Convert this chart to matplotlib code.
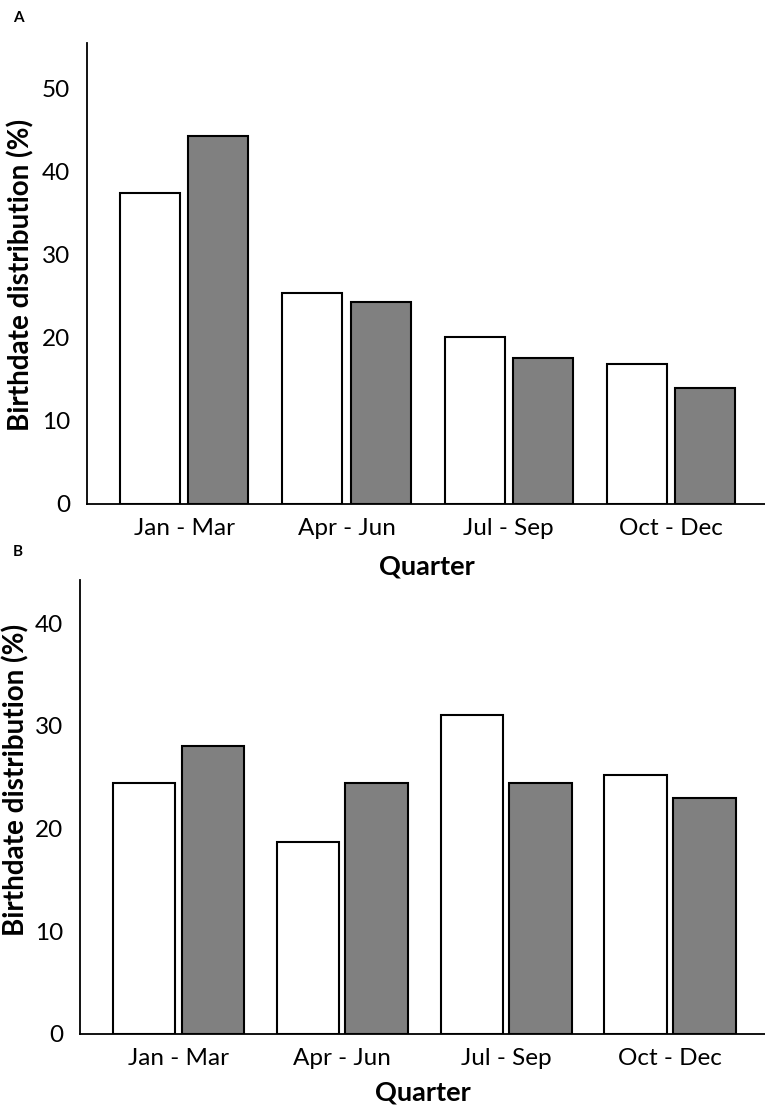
import matplotlib
matplotlib.use("Agg")
import matplotlib.pyplot as plt
import numpy as np

plt.rcParams['font.family'] = ['Lato', 'DejaVu Sans']

quarters = ["Jan - Mar", "Apr - Jun", "Jul - Sep", "Oct - Dec"]
# panel A
a_white = [37.5, 25.4, 20.1, 16.9]
a_grey = [44.3, 24.3, 17.6, 14.0]
# panel B
b_white = [24.4, 18.7, 31.1, 25.2]
b_grey = [28.0, 24.4, 24.4, 23.0]

W, H = 765, 1109
fig = plt.figure(figsize=(W / 100, H / 100), dpi=100)


def panel(rect, white, grey, ymax, yticks, width, off):
    ax = fig.add_axes(rect)
    x = np.arange(len(quarters))
    ax.bar(x - off, white, width, color="white", edgecolor="black", linewidth=1.5)
    ax.bar(x + off, grey, width, color="#808080", edgecolor="black", linewidth=1.5)
    ax.set_xlim(-0.6, 3.58)
    ax.set_ylim(0, ymax)
    ax.set_yticks(yticks)
    ax.set_xticks(x)
    ax.set_xticklabels(quarters)
    for s in ["top", "right"]:
        ax.spines[s].set_visible(False)
    for s in ["left", "bottom"]:
        ax.spines[s].set_linewidth(1.3)
    ax.tick_params(axis="both", length=0, labelsize=17.5)
    ax.tick_params(axis="y", pad=12)
    ax.tick_params(axis="x", pad=10)
    return ax


# rects from pixel positions
axA = panel([87 / W, 1 - 504 / H, 1 - 87 / W, (504 - 43) / H],
            a_white, a_grey, 55.5, [0, 10, 20, 30, 40, 50], 0.37, 0.21)
axB = panel([80 / W, 1 - 1034 / H, 1 - 80 / W, (1034 - 580) / H],
            b_white, b_grey, 44.2, [0, 10, 20, 30, 40], 0.38, 0.21)

fig.text(21 / W, 1 - 275 / H, "Birthdate distribution (%)", rotation=90,
         ha="center", va="center", fontsize=20, fontweight="bold")
fig.text(16 / W, 1 - 780 / H, "Birthdate distribution (%)", rotation=90,
         ha="center", va="center", fontsize=20, fontweight="bold")
fig.text(427 / W, 1 - 566 / H, "Quarter", ha="center", va="center",
         fontsize=19.5, fontweight="bold")
fig.text(423 / W, 1 - 1093 / H, "Quarter", ha="center", va="center",
         fontsize=19.5, fontweight="bold")
fig.text(18 / W, 1 - 18 / H, "A", ha="center", va="center", fontsize=11, fontweight="bold")
fig.text(18 / W, 1 - 552 / H, "B", ha="center", va="center", fontsize=11, fontweight="bold")

fig.savefig("out.png", dpi=100)
